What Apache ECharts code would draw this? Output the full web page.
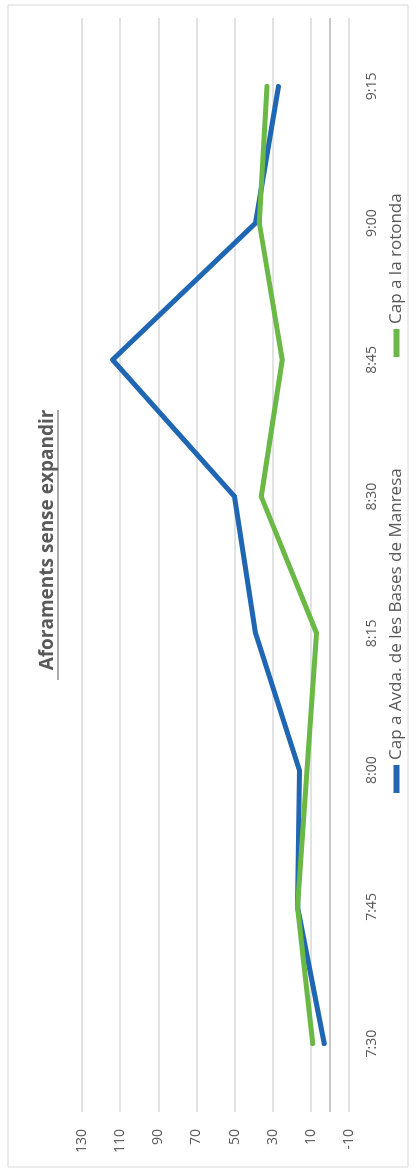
<!DOCTYPE html>
<html>
<head>
<meta charset="utf-8">
<script src="https://cdn.jsdelivr.net/npm/echarts@6/dist/echarts.min.js"></script>
<style>
html,body{margin:0;padding:0;background:#fff;overflow:hidden;width:416px;height:1174px;}
#wrap{position:absolute;left:0;top:0;width:1174px;height:416px;transform-origin:0 0;transform:translate(0,1174px) rotate(-90deg);}
</style>
</head>
<body>
<div id="wrap"></div>
<script>
const categories = ['7:30','7:45','8:00','8:15','8:30','8:45','9:00','9:15'];
const seriesNames = ['Cap a Avda. de les Bases de Manresa','Cap a la rotonda'];
const avdaValues = [3, 17, 16, 39, 50, 114, 39, 27];
const rotondaValues = [9, 17, 12, 7, 36, 25, 37, 33];
const titleText = 'Aforaments sense expandir';

const chart = echarts.init(document.getElementById('wrap'), null, {renderer:'canvas'});
const font = '"Open Sans", "Liberation Sans", sans-serif';
const legendText = {fontFamily:font, fontSize:17, color:'#595959'};
chart.setOption({
  animation:false,
  backgroundColor:'#fff',
  title:{
    text:titleText, left:629, top:33, textAlign:'center',
    textStyle:{fontFamily:font, fontSize:19, fontWeight:'bold', color:'#595959'}
  },
  graphic:[
    {type:'rect', shape:{x:7,y:8,width:1162,height:400}, style:{fill:'none', stroke:'#d9d9d9', lineWidth:1}, silent:true},
    {type:'line', shape:{x1:494,y1:58,x2:764,y2:58}, style:{stroke:'#595959', lineWidth:1.2}, silent:true}
  ],
  legend:[
    {left:376, top:383, itemWidth:28, itemHeight:6, icon:'rect', itemGap:4,
     textStyle:legendText, data:[seriesNames[0]]},
    {left:812, top:383, itemWidth:28, itemHeight:6, icon:'rect', itemGap:4,
     textStyle:legendText, data:[seriesNames[1]]}
  ],
  grid:{left:62, right:18, top:82, bottom:67, containLabel:false},
  xAxis:{type:'category', data:categories, boundaryGap:true,
     axisLine:{show:false, onZero:false}, axisTick:{show:false},
     axisLabel:{fontFamily:font, fontSize:14, color:'#595959', margin:16}},
  yAxis:{
    type:'value', min:-10, max:130, interval:20,
    axisLine:{show:false}, axisTick:{show:false},
    axisLabel:{fontFamily:font, fontSize:14, color:'#595959', margin:17},
    splitLine:{lineStyle:{color:'#d9d9d9', width:1.5}}
  },
  series:[
    {name:seriesNames[0], type:'line', data:avdaValues, showSymbol:false, symbol:'none',
     lineStyle:{color:'#1f67b2', width:5, cap:'round', join:'round'}, itemStyle:{color:'#1f67b2'}, z:3,
     markLine:{silent:true, symbol:['none','none'], label:{show:false}, animation:false, z:1,
       lineStyle:{color:'#b4b4b4', width:1.5, type:'solid', opacity:1}, data:[{yAxis:0}]}},
    {name:seriesNames[1], type:'line', data:rotondaValues, showSymbol:false, symbol:'none',
     lineStyle:{color:'#6ab845', width:5, cap:'round', join:'round'}, itemStyle:{color:'#6ab845'}, z:4}
  ]
});
</script>
</body>
</html>
